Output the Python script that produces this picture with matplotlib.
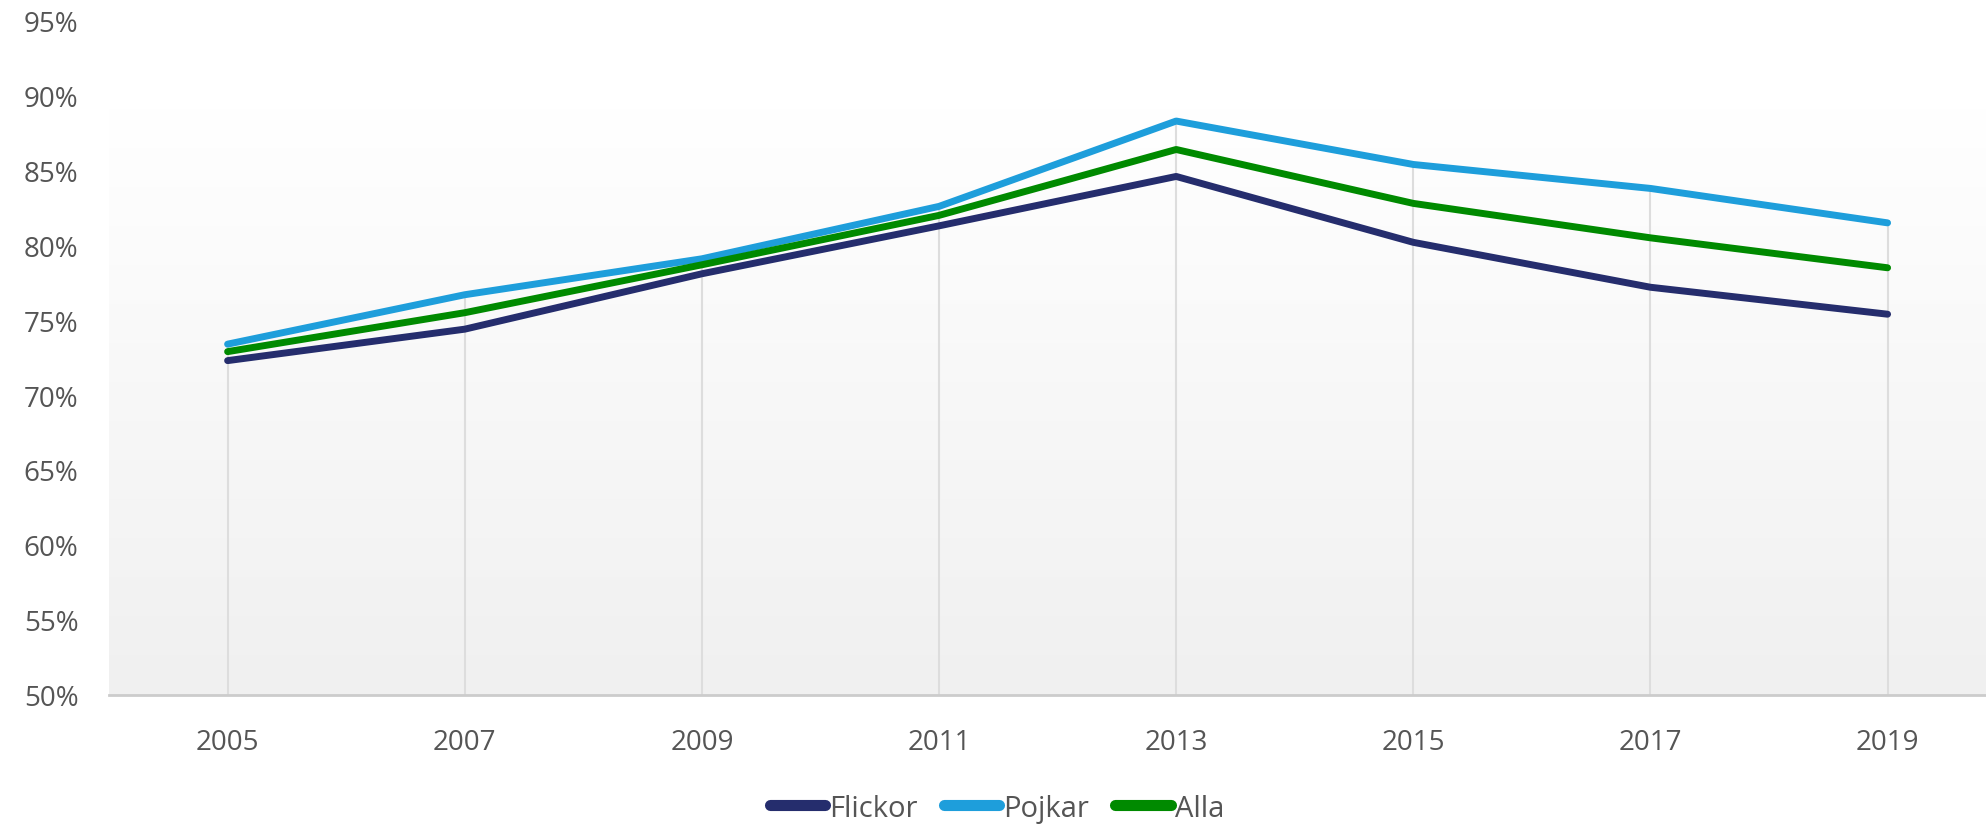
import numpy as np
import matplotlib
matplotlib.use("Agg")
import matplotlib.pyplot as plt
from matplotlib.colors import LinearSegmentedColormap

years = [2005, 2007, 2009, 2011, 2013, 2015, 2017, 2019]
flickor = [72.3, 74.4, 78.1, 81.3, 84.6, 80.2, 77.2, 75.4]
pojkar = [73.4, 76.7, 79.1, 82.6, 88.3, 85.4, 83.8, 81.5]
alla = [72.9, 75.5, 78.7, 82.0, 86.4, 82.8, 80.5, 78.5]
yticks = [50, 55, 60, 65, 70, 75, 80, 85, 90, 95]

series = [("Flickor", flickor, "#252d6d"),
          ("Pojkar", pojkar, "#1e9edb"),
          ("Alla", alla, "#008a00")]

plt.rcParams['font.family'] = ['Open Sans', 'DejaVu Sans']
text_color = "#555555"

fig = plt.figure(figsize=(19.86, 8.29), dpi=100)
ax = fig.add_axes([0.0549, 0.161, 0.9451, 0.8128])

xmin, xmax = 2004.0, 2019.83
ymin, ymax = 50, 95
grad_top = 89.2

# gradient background (white at top, light grey at bottom)
cmap = LinearSegmentedColormap.from_list("bg", ["#ffffff", "#f0f0f0"])
grad = np.linspace(0, 1, 256).reshape(-1, 1)
ax.imshow(grad, cmap=cmap, aspect="auto", extent=[xmin, xmax, ymin, grad_top],
          origin="upper", zorder=0, interpolation="bilinear")
ax.set_xlim(xmin, xmax)
ax.set_ylim(ymin, ymax)

# vertical guide lines up to the highest series
tops = np.max(np.array([flickor, pojkar, alla]), axis=0)
ax.vlines(years, ymin, tops, colors="#dddddd", linewidth=1.5, zorder=1)

for name, vals, col in series:
    ax.plot(years, vals, color=col, linewidth=5, solid_capstyle="round",
            solid_joinstyle="round", label=name, zorder=3)

for s in ["top", "right", "left"]:
    ax.spines[s].set_visible(False)
ax.spines["bottom"].set_color("#cccccc")
ax.spines["bottom"].set_linewidth(2)
ax.spines["bottom"].set_zorder(2)

ax.set_xticks(years)
ax.set_xticklabels([str(y) for y in years])
ax.set_yticks(yticks)
ax.set_yticklabels([f"{v}%" for v in yticks])
ax.tick_params(axis="x", length=0, pad=24, labelsize=20, labelcolor=text_color)
ax.tick_params(axis="y", length=0, pad=22, labelsize=20, labelcolor=text_color)

leg = fig.legend(loc="center", bbox_to_anchor=(0.502, 0.024), ncol=3,
                 frameon=False, fontsize=21, handlelength=1.9,
                 handletextpad=0.14, columnspacing=0.9, borderpad=0,
                 labelcolor=text_color)
for line in leg.get_lines():
    line.set_linewidth(8)
    line.set_solid_capstyle("round")

fig.savefig("out.png", dpi=100)
